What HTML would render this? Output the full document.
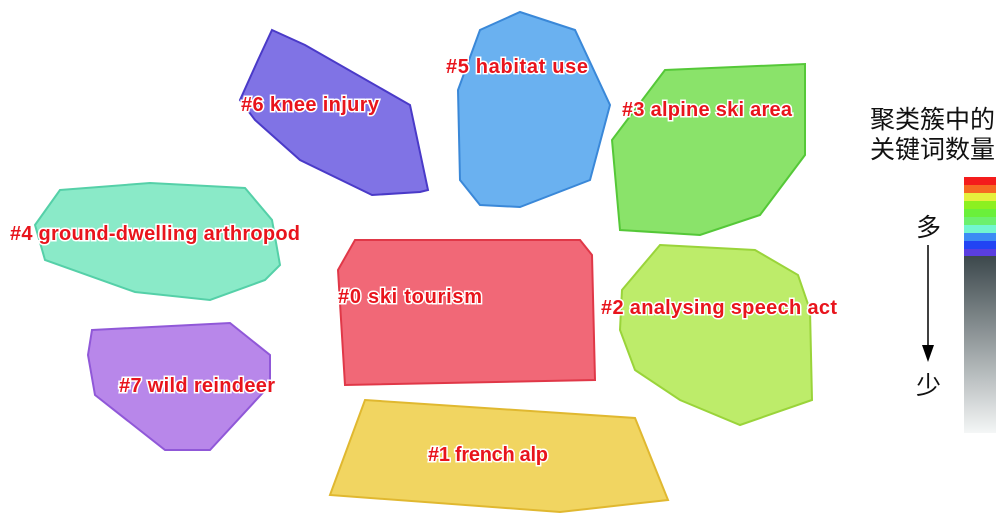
<!DOCTYPE html><html><head><style>body{margin:0;background:#fff}svg{display:block}</style></head><body>
<svg width="1000" height="529" xmlns="http://www.w3.org/2000/svg" font-family="Liberation Sans, sans-serif">
<defs>
<linearGradient id="g" x1="0" y1="0" x2="0" y2="1"><stop offset="0" stop-color="#3c484c"/><stop offset="1" stop-color="#f4f6f6"/></linearGradient>
</defs>
<polygon points="272,30 305,45 410,105 428,190 420,192 372,195 300,160 255,120 240,100 258,60" fill="#6a5ae0" fill-opacity="0.85" stroke="#4a3ac8" stroke-width="2"/>
<polygon points="520,12 575,30 610,105 590,180 520,207 480,205 460,180 458,90 480,30" fill="#5aa8ee" fill-opacity="0.9" stroke="#3a88d8" stroke-width="2"/>
<polygon points="665,70 805,64 805,155 760,215 700,235 620,230 612,140" fill="#7de05a" fill-opacity="0.9" stroke="#55c838" stroke-width="2"/>
<polygon points="60,190 150,183 245,188 272,220 280,265 265,280 210,300 135,292 45,260 35,225" fill="#7de8c2" fill-opacity="0.9" stroke="#55d0a8" stroke-width="2"/>
<polygon points="355,240 580,240 592,255 595,380 345,385 338,270" fill="#f06070" fill-opacity="0.95" stroke="#e03848" stroke-width="2"/>
<polygon points="660,245 755,250 798,275 810,310 812,400 740,425 680,400 635,370 620,330 622,290" fill="#b6ea5a" fill-opacity="0.9" stroke="#9ad43a" stroke-width="2"/>
<polygon points="92,330 230,323 270,355 270,385 210,450 165,450 95,395 88,355" fill="#b07ae8" fill-opacity="0.9" stroke="#9058d8" stroke-width="2"/>
<polygon points="365,400 635,418 668,500 560,512 330,495" fill="#f0d050" fill-opacity="0.9" stroke="#e0b830" stroke-width="2"/>
<g font-weight="bold" font-size="20" fill="#e8141c" stroke="#fff" stroke-width="3" paint-order="stroke">
<text x="241" y="111" textLength="138">#6 knee injury</text>
<text x="446" y="73" textLength="142">#5 habitat use</text>
<text x="622" y="116" textLength="170">#3 alpine ski area</text>
<text x="10" y="240" textLength="290">#4 ground-dwelling arthropod</text>
<text x="338" y="303" textLength="144">#0 ski tourism</text>
<text x="601" y="314" textLength="236">#2 analysing speech act</text>
<text x="119" y="392" textLength="156">#7 wild reindeer</text>
<text x="428" y="461" textLength="120">#1 french alp</text>
</g>
<g font-family="Liberation Sans, Noto Sans CJK SC, sans-serif" font-size="25" fill="#111">
<text x="870" y="128">聚类簇中的</text>
<text x="870" y="158">关键词数量</text>
<text x="916" y="236">多</text>
<text x="916" y="394">少</text>
</g>
<line x1="928" y1="245" x2="928" y2="350" stroke="#000" stroke-width="1.5"/>
<polygon points="922,345 934,345 928,362" fill="#000"/>
<rect x="964" y="177" width="32" height="8" fill="#f41c1c"/>
<rect x="964" y="185" width="32" height="8" fill="#f66a22"/>
<rect x="964" y="193" width="32" height="8" fill="#e6f03c"/>
<rect x="964" y="201" width="32" height="8" fill="#8cf020"/>
<rect x="964" y="209" width="32" height="8" fill="#6af03a"/>
<rect x="964" y="217" width="32" height="8" fill="#6cf06e"/>
<rect x="964" y="225" width="32" height="8" fill="#72f6d0"/>
<rect x="964" y="233" width="32" height="8" fill="#3c8cf4"/>
<rect x="964" y="241" width="32" height="8" fill="#2244f4"/>
<rect x="964" y="249" width="32" height="7" fill="#5a3ee0"/>
<rect x="964" y="256" width="32" height="177" fill="url(#g)"/>
</svg>
</body></html>
